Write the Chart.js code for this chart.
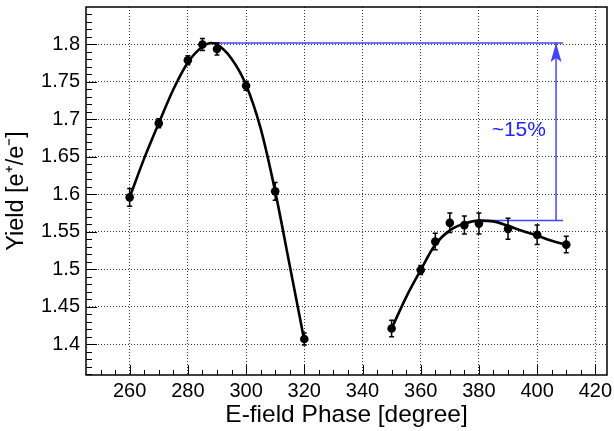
<!DOCTYPE html>
<html>
<head>
<meta charset="utf-8">
<script src="https://cdn.jsdelivr.net/npm/chart.js@4.4.1/dist/chart.umd.min.js"></script>
<style>
  html, body { margin: 0; padding: 0; background: #fff; }
  #wrap { width: 614px; height: 431px; }
</style>
</head>
<body>
<div id="wrap"><canvas id="yieldChart"></canvas></div>
<script>
// Messpunkte
const phase = [260, 270, 280, 285, 290, 300, 310, 320, 350, 360, 365, 370, 375, 380, 390, 400, 410];
const yieldVal = [1.596, 1.695, 1.779, 1.800, 1.794, 1.745, 1.604, 1.407, 1.421, 1.499, 1.537, 1.562, 1.559, 1.561, 1.554, 1.546, 1.533];
const yieldErr = [0.012, 0.006, 0.006, 0.008, 0.008, 0.006, 0.012, 0.008, 0.011, 0.006, 0.011, 0.013, 0.012, 0.014, 0.014, 0.013, 0.011];

// Fitkurven
const fit1Phase = [260, 265, 270, 275, 280, 285, 288, 290, 295, 300, 305, 310, 315, 320];
const fit1Yield = [1.596, 1.648, 1.695, 1.740, 1.776, 1.797, 1.802, 1.800, 1.781, 1.746, 1.688, 1.604, 1.505, 1.405];
const fit2Phase = [350, 355, 360, 365, 370, 375, 380, 385, 390, 395, 400, 405, 410];
const fit2Yield = [1.421, 1.463, 1.499, 1.533, 1.552, 1.561, 1.565, 1.564, 1.558, 1.551, 1.545, 1.538, 1.533];

// blaue Markierung
const topLevel = 1.802;
const lowLevel = 1.565;
const topLinePhase = [288.6, 408.9];
const lowLinePhase = [380.3, 408.9];
const arrowPhase = 406.5;
const noteText = '~15%';
const notePhase = 393.7;
const noteYield = 1.686;

// Achsen
const xTicks = [260, 280, 300, 320, 340, 360, 380, 400, 420];
const yTicks = [1.4, 1.45, 1.5, 1.55, 1.6, 1.65, 1.7, 1.75, 1.8];

const FONT = '"Liberation Sans", Arial, Helvetica, sans-serif';
const BLUE = '#4444ff';

const zip = (xs, ys) => xs.map((x, i) => ({ x, y: ys[i] }));

const rootStyle = {
  id: 'rootStyle',
  afterDatasetsDraw(chart) {
    const { ctx, scales: { x, y } } = chart;
    ctx.save();
    // Fehlerbalken
    ctx.strokeStyle = '#000';
    ctx.lineWidth = 1.5;
    phase.forEach((p, i) => {
      const px = x.getPixelForValue(p);
      const y1 = y.getPixelForValue(yieldVal[i] + yieldErr[i]);
      const y2 = y.getPixelForValue(yieldVal[i] - yieldErr[i]);
      ctx.beginPath();
      ctx.moveTo(px, y1); ctx.lineTo(px, y2);
      ctx.moveTo(px - 2.5, y1); ctx.lineTo(px + 2.5, y1);
      ctx.moveTo(px - 2.5, y2); ctx.lineTo(px + 2.5, y2);
      ctx.stroke();
    });
    // Pfeilspitze
    const ax = x.getPixelForValue(arrowPhase);
    const ay = y.getPixelForValue(topLevel);
    ctx.fillStyle = BLUE;
    ctx.beginPath();
    ctx.moveTo(ax, ay);
    ctx.lineTo(ax - 5.5, ay + 19);
    ctx.lineTo(ax, ay + 15);
    ctx.lineTo(ax + 5.5, ay + 19);
    ctx.closePath();
    ctx.fill();
    // Text
    ctx.fillStyle = '#2222ff';
    ctx.font = '21px ' + FONT;
    ctx.textAlign = 'center';
    ctx.textBaseline = 'middle';
    ctx.fillText(noteText, x.getPixelForValue(notePhase), y.getPixelForValue(noteYield));
    ctx.restore();
  },
  afterDraw(chart) {
    const { ctx, chartArea: a, scales: { x, y } } = chart;
    ctx.save();
    ctx.strokeStyle = '#000';
    ctx.lineWidth = 1;
    ctx.beginPath();
    // Ticks innen, ROOT-Stil
    for (let v = 250; v <= 420; v += 5) {
      const px = Math.round(x.getPixelForValue(v)) + 0.5;
      const len = v % 20 === 0 ? 10 : 5;
      ctx.moveTo(px, a.bottom); ctx.lineTo(px, a.bottom - len);
    }
    for (let i = 136; i <= 184; i++) {
      const py = Math.round(y.getPixelForValue(i / 100)) + 0.5;
      const len = i % 5 === 0 ? 11 : 6;
      ctx.moveTo(a.left, py); ctx.lineTo(a.left + len, py);
    }
    ctx.stroke();
    ctx.lineWidth = 1.5;
    ctx.strokeRect(a.left, a.top, a.right - a.left, a.bottom - a.top);
    ctx.restore();
  }
};

new Chart(document.getElementById('yieldChart'), {
  type: 'scatter',
  data: {
    datasets: [
      {
        label: 'fit1',
        data: zip(fit1Phase, fit1Yield),
        showLine: true,
        borderColor: '#000',
        borderWidth: 2.6,
        pointRadius: 0,
        tension: 0.4,
        cubicInterpolationMode: 'monotone'
      },
      {
        label: 'fit2',
        data: zip(fit2Phase, fit2Yield),
        showLine: true,
        borderColor: '#000',
        borderWidth: 2.6,
        pointRadius: 0,
        tension: 0.4,
        cubicInterpolationMode: 'monotone'
      },
      {
        label: 'top',
        data: topLinePhase.map(p => ({ x: p, y: topLevel })),
        showLine: true,
        borderColor: BLUE,
        borderWidth: 1.5,
        pointRadius: 0
      },
      {
        label: 'low',
        data: lowLinePhase.map(p => ({ x: p, y: lowLevel })),
        showLine: true,
        borderColor: BLUE,
        borderWidth: 1.5,
        pointRadius: 0
      },
      {
        label: 'arrow',
        data: [{ x: arrowPhase, y: lowLevel }, { x: arrowPhase, y: topLevel }],
        showLine: true,
        borderColor: BLUE,
        borderWidth: 1.5,
        pointRadius: 0
      },
      {
        label: 'Yield',
        data: zip(phase, yieldVal),
        pointRadius: 4.3,
        pointBackgroundColor: '#000',
        pointBorderColor: '#000',
        pointBorderWidth: 0
      }
    ]
  },
  options: {
    responsive: true,
    maintainAspectRatio: false,
    animation: false,
    layout: { padding: { left: 0, top: 7, right: 7, bottom: 0 } },
    plugins: { legend: { display: false }, tooltip: { enabled: false } },
    scales: {
      x: {
        type: 'linear',
        min: 245,
        max: 424,
        afterBuildTicks: s => { s.ticks = xTicks.map(v => ({ value: v })); },
        afterFit: s => { s.height = 56; s.paddingLeft = 0; s.paddingRight = 0; },
        ticks: { padding: 4, color: '#000', font: { family: FONT, size: 20 } },
        grid: { color: '#333', lineWidth: 1, drawTicks: false },
        border: { display: false, dash: [1, 2] },
        title: {
          display: true,
          text: 'E-field Phase [degree]',
          color: '#000',
          font: { family: FONT, size: 24.5 },
          padding: { top: 0, bottom: 1 }
        }
      },
      y: {
        type: 'linear',
        min: 1.359,
        max: 1.85,
        afterBuildTicks: s => { s.ticks = yTicks.map(v => ({ value: v })); },
        afterFit: s => { s.width = 86; s.paddingTop = 0; s.paddingBottom = 0; },
        ticks: { padding: 6, color: '#000', font: { family: FONT, size: 20 }, callback: v => String(v) },
        grid: { color: '#333', lineWidth: 1, drawTicks: false },
        border: { display: false, dash: [1, 2] },
        title: {
          display: true,
          text: 'Yield [e\u207A/e\u207B]',
          color: '#000',
          font: { family: FONT, size: 23.5 },
          padding: { top: 2, bottom: 0 }
        }
      }
    }
  },
  plugins: [rootStyle]
});
</script>
</body>
</html>
